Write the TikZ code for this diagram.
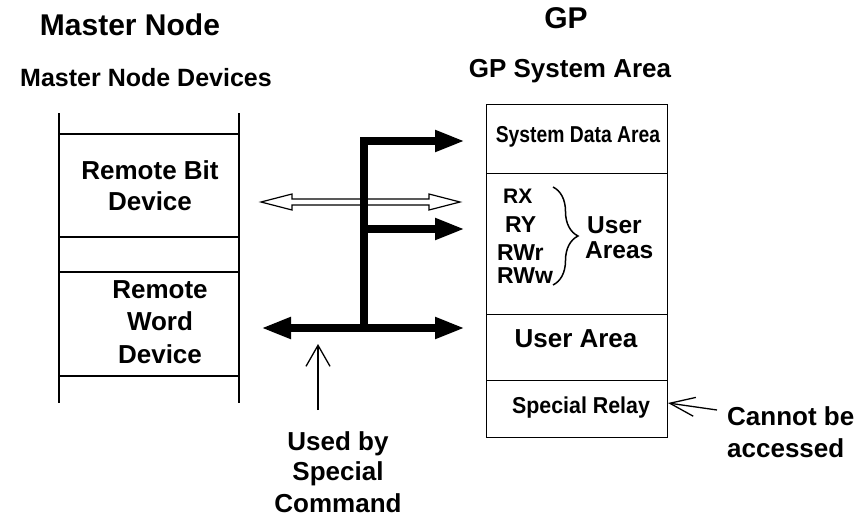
\documentclass[tikz,border=0pt]{standalone}
\usepackage{fontspec}
\usepackage{graphicx}
\setmainfont{Liberation Sans}
\usetikzlibrary{arrows.meta,decorations.pathreplacing,calc}
\newcommand\myfs[1]{\fontsize{#1}{#1}\selectfont}
\begin{document}
\begin{tikzpicture}[x=1pt,y=-1pt,
  txt/.style={inner sep=0pt, anchor=base, font=\bfseries\myfs{26}},
  txtl/.style={inner sep=0pt, anchor=base west, font=\bfseries\myfs{23}},
  thinline/.style={line width=1.3pt},
  area/.style={draw, line width=1.3pt, minimum width=181pt, inner sep=0pt, anchor=north west},
  bus/.style={line width=7.5pt, line join=miter},
  bustip/.style={-{Triangle[length=30pt,width=20pt]}},
  busboth/.style={{Triangle[length=30pt,width=20pt]}-{Triangle[length=30pt,width=20pt]}},
  hollow/.style={draw, fill=white, line width=1.2pt, line join=miter},
  pointer/.style={line width=1.3pt}
]
\useasboundingbox (0,0) rectangle (861,517);

% titles
\node[txt, font=\bfseries\myfs{30}] (mn) at (130,35) {Master Node};
\node[txt, font=\bfseries\myfs{25}] (mnd) at (146,86) {Master Node Devices};
\node[txt, font=\bfseries\myfs{30}] (gp) at (566,28) {GP};
\node[txt, font=\bfseries\myfs{26}] (gpsa) at (570,77) {GP System Area};

% left column
\draw[thinline] (59,113) -- (59,403);
\draw[thinline] (239,113) -- (239,403);
\foreach \yy in {134,237,272,376} \draw[thinline] (59,\yy) -- (239,\yy);
\node[txt] (rb1) at (150,179) {Remote Bit};
\node[txt] (rb2) at (150,210) {Device};
\node[txt] (rw1) at (160,298) {Remote};
\node[txt] (rw2) at (160,330) {Word};
\node[txt] (rw3) at (160,363) {Device};

% right column
\node[area, minimum height=69pt] (sys) at (486,104) {};
\node[area, minimum height=141pt] (usr) at (486,173) {};
\node[area, minimum height=66pt] (ua) at (486,314) {};
\node[area, minimum height=57pt] (sr) at (486,380) {};
\node[txt, font=\bfseries\myfs{23}] (syst) at (578,142) {\scalebox{0.84}[1]{System Data Area}};
\node[txtl, font=\bfseries\myfs{21}] (rx) at (503,203) {RX};
\node[txtl] (ry) at (505,232) {RY};
\node[txtl] (rwr) at (497,260) {RWr};
\node[txtl] (rww) at (497,283) {RWw};
\draw[line width=1.5pt, decorate, decoration={brace, amplitude=25pt}] (553,187) -- (553,285);
\node[txtl, font=\bfseries\myfs{24.5}] (ua1) at (587,233) {User};
\node[txtl, font=\bfseries\myfs{24.5}] (ua2) at (585,258) {Areas};
\node[txt] (uat) at (576,347) {User Area};
\node[txt, font=\bfseries\myfs{23}] (srt) at (581,413) {\scalebox{0.93}[1]{Special Relay}};

% connectors
\coordinate (hl) at (261,202);
\coordinate (hr) at (460,202);
\draw[hollow] (hl) -- ++(31,-8) -- ++(0,5) -- ($(hr)+(-31,-3)$) -- ++(0,-5) -- (hr)
  -- ++(-31,8) -- ++(0,-5) -- ($(hl)+(31,3)$) -- ++(0,5) -- cycle;

\coordinate (jb) at (364,328);
\coordinate (jt) at (364,141);
\coordinate (jm) at (364,229);
\coordinate (t1) at (465,141);
\coordinate (t2) at (465,229);
\coordinate (bl) at (261,328);
\coordinate (br) at (465,328);
\draw[bus, bustip] (jb) -- (jt) -- (t1);
\draw[bus, bustip] (jm) -- (t2);
\draw[bus, busboth] (bl) -- (br);

% used by special command
\coordinate (ub) at (318,410);
\coordinate (ut) at (318,344);
\draw[pointer, -{Straight Barb[length=21pt,width=24pt]}] (ub) -- (ut);
\node[txt] (u1) at (338,450) {Used by};
\node[txt] (u2) at (338,480) {Special};
\node[txt] (u3) at (338,512) {Command};

% cannot be accessed
\node[txtl, font=\bfseries\myfs{26}] (c1) at (727,425) {Cannot be};
\node[txtl, font=\bfseries\myfs{26}] (c2) at (727,457) {accessed};
\coordinate (cs) at (717,410);
\coordinate (ct) at (668,403);
\draw[pointer, -{Straight Barb[length=25pt,width=19pt]}] (cs) -- (ct);
\end{tikzpicture}
\end{document}
